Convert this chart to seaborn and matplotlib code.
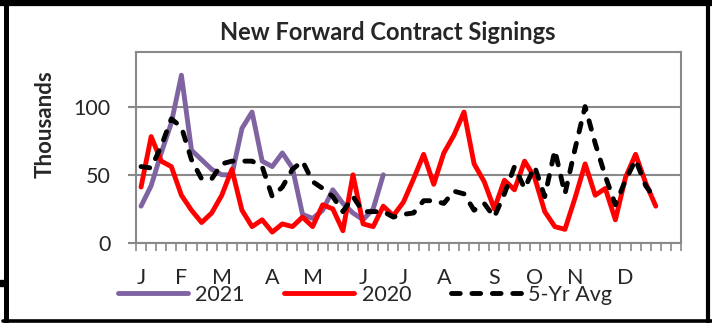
import numpy as np
import pandas as pd
import matplotlib
matplotlib.use("Agg")
import matplotlib.pyplot as plt
from matplotlib.lines import Line2D
from matplotlib.patches import Rectangle
import seaborn as sns

# Weekly new forward contract signings (thousands)
weeks_2021 = list(range(25))
signings_2021 = [27, 42, 66, 88, 123, 68, 61, 54, 50, 50, 84, 96, 60, 56, 66, 55,
                 21, 18, 24, 39, 29, 22, 17, 25, 50]

weeks_2020 = list(range(52))
signings_2020 = [41, 78, 60, 56, 35, 24, 15, 22, 35, 54, 24, 12, 17, 8, 14, 12,
                 19, 12, 28, 25, 9, 50, 14, 12, 27, 20, 30, 47, 65, 43, 66, 79,
                 96, 58, 45, 25, 46, 39, 60, 48, 23, 12, 10, 33, 58, 35, 40, 17,
                 48, 65, 44, 27]

weeks_avg = list(range(52))
signings_avg = [56, 55, 71, 91, 85, 61, 47, 47, 58, 60, 60, 60, 56, 34, 41, 54,
                60, 45, 40, 34, 23, 34, 23, 23, 23, 19, 21, 22, 31, 31, 29, 38,
                36, 24, 29, 19, 36, 56, 40, 56, 34, 68, 36, 69, 100, 73, 49, 28,
                46, 61, 42, 32]

series_names = ["2021", "2020", "5-Yr Avg"]
series_colors = ["#8064A2", "#FF0000", "#000000"]

month_labels = ["J", "F", "M", "A", "M", "J", "J", "A", "S", "O", "N", "D"]
month_weeks = [0, 4, 8, 13, 17, 22, 26, 30, 35, 39, 43, 48]
n_weeks_axis = 54

df = pd.concat([
    pd.DataFrame({"week": weeks_2021, "value": signings_2021, "series": "2021"}),
    pd.DataFrame({"week": weeks_2020, "value": signings_2020, "series": "2020"}),
    pd.DataFrame({"week": weeks_avg, "value": signings_avg, "series": "5-Yr Avg"}),
], ignore_index=True)

sns.set_theme(style="white")
plt.rcParams["font.family"] = ["Lato", "DejaVu Sans"]

W, H = 712, 323
fig = plt.figure(figsize=(W / 100, H / 100), dpi=100)
fig.patch.set_facecolor("white")

def fx(px):
    return px / W

def fy(py):
    return 1 - py / H

ax = fig.add_axes([fx(136), fy(243), fx(681) - fx(136), fy(52) - fy(243)])

grey = "#898989"
lw_line = 3.5
label_size = 15.5

sns.lineplot(
    data=df, x="week", y="value", hue="series", style="series",
    hue_order=series_names, style_order=series_names,
    palette=dict(zip(series_names, series_colors)),
    dashes={"2021": "", "2020": "", "5-Yr Avg": (1.8, 2.4)},
    linewidth=lw_line, legend=False, ax=ax, estimator=None,
)
for ln in ax.lines:
    ln.set_solid_capstyle("round")
    ln.set_dash_capstyle("round")
    ln.set_solid_joinstyle("round")

ax.set_xlim(-0.5, n_weeks_axis - 0.5)
ax.set_ylim(0, 140)
ax.set_xlabel("")
ax.set_ylabel("")

# Y axis
ax.set_yticks([0, 50, 100])
ax.set_yticklabels(["0", "50", "100"])
ax.yaxis.grid(True, color=grey, linewidth=1.5)
ax.xaxis.grid(False)
ax.set_axisbelow(True)
ax.tick_params(axis="y", which="major", length=5.5, width=1.5, color=grey,
               direction="out", pad=13, labelsize=label_size, left=True)

# X axis: month letters, with ticks between the weekly categories
ax.set_xticks(month_weeks)
ax.set_xticklabels(month_labels)
ax.set_xticks(np.arange(-0.5, n_weeks_axis, 1.0), minor=True)
ax.tick_params(axis="x", which="major", length=0, pad=18, labelsize=label_size)
ax.tick_params(axis="x", which="minor", length=5.5, width=1.2, color=grey,
               direction="out", bottom=True)

for side in ["left", "right", "top", "bottom"]:
    ax.spines[side].set_visible(True)
    ax.spines[side].set_color(grey)
    ax.spines[side].set_linewidth(1.5)

fig.text(fx(388), fy(33), "New Forward Contract Signings", ha="center", va="center",
         fontsize=17, fontweight="bold")
fig.text(fx(45), fy(124), "Thousands", ha="center", va="center", rotation=90,
         fontsize=16, fontweight="bold")

leg = fig.legend(ax.lines[:3], series_names, loc="center",
                 bbox_to_anchor=(fx(365), fy(295)), ncol=3, frameon=False,
                 fontsize=label_size, handlelength=3.25, handletextpad=0.33,
                 columnspacing=1.86, borderpad=0, borderaxespad=0)

# Outer black frame
frame_kw = dict(transform=fig.transFigure, color="black", clip_on=False)
fig.add_artist(Line2D([0, 1], [fy(3), fy(3)], linewidth=4.5, **frame_kw))
fig.add_artist(Line2D([fx(5.5), fx(5.5)], [fy(0), fy(322)], linewidth=3.6, **frame_kw))
fig.add_artist(Line2D([fx(708), fx(708)], [fy(0), fy(322)], linewidth=3.0, **frame_kw))
fig.add_artist(Line2D([fx(3), fx(712)], [fy(320.5), fy(320.5)], linewidth=2.6, **frame_kw))
fig.add_artist(Rectangle((0, fy(286)), fx(4), fy(280) - fy(286),
                         transform=fig.transFigure, color="black"))

fig.savefig("out.png", dpi=100, facecolor="white")
